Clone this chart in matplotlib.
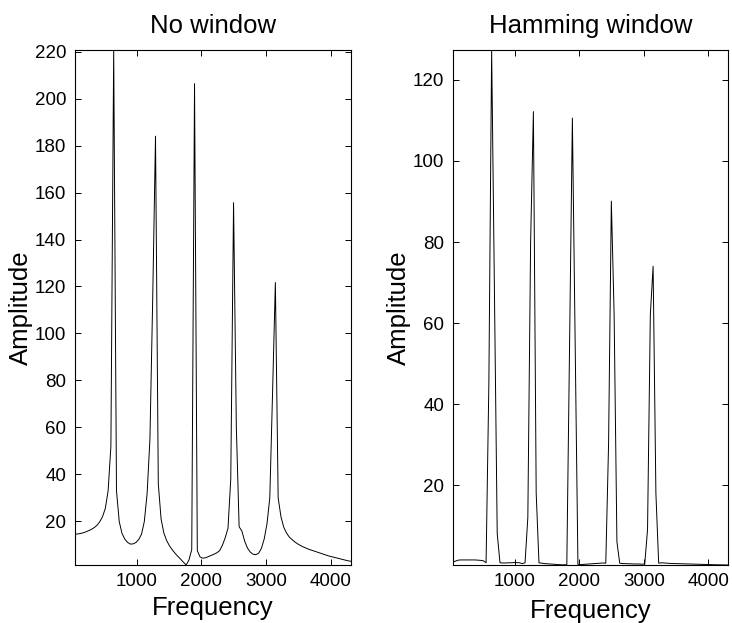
import numpy as np
import matplotlib
matplotlib.use('Agg')
from matplotlib import pyplot as plt

plt.rcParams['font.family'] = ['Liberation Sans', 'DejaVu Sans']

# frequency bins (fs = 44100 Hz, 1024-point FFT, first 100 bins)
fs = 44100
nfft = 1024
freq = np.arange(1, 101) * fs / nfft

# magnitude spectrum, rectangular (no) window
amp_rect = [
    14.5, 14.6, 14.8, 15.1, 15.5, 16.0, 16.6, 17.3, 18.3, 19.8,
    22.0, 25.5, 33.0, 52.0, 220.7, 33.0, 19.8, 14.8, 12.4, 11.0,
    10.3, 10.4, 11.0, 12.3, 14.6, 20.0, 32.0, 55.0, 115.0, 184.0,
    36.0, 21.0, 15.0, 11.8, 9.6, 7.9, 6.4, 5.1, 3.9, 2.6,
    1.4, 3.5, 8.0, 206.4, 7.5, 4.8, 4.3, 4.5, 5.0, 5.5,
    6.0, 6.6, 7.5, 9.8, 13.0, 17.0, 38.0, 155.7, 60.0, 17.7,
    15.8, 11.5, 8.6, 6.9, 6.0, 5.8, 6.4, 8.5, 12.5, 19.0,
    30.0, 75.0, 121.7, 30.0, 22.0, 17.5, 15.0, 13.3, 12.2, 11.2,
    10.4, 9.7, 9.1, 8.6, 8.1, 7.7, 7.3, 6.9, 6.5, 6.1,
    5.7, 5.3, 5.0, 4.7, 4.4, 4.1, 3.8, 3.5, 3.2, 3.0,
]

# magnitude spectrum, Hamming window
amp_hamm = [
    1.0, 1.2, 1.45, 1.5, 1.5, 1.5, 1.5, 1.5, 1.5, 1.45,
    1.4, 1.3, 0.8, 45.0, 127.4, 68.0, 8.0, 0.8, 0.75, 0.75,
    0.8, 0.8, 0.85, 0.85, 0.8, 0.6, 0.8, 12.0, 80.0, 112.2,
    18.0, 0.8, 0.7, 0.6, 0.55, 0.5, 0.45, 0.4, 0.35, 0.3,
    0.3, 0.3, 55.0, 110.6, 55.0, 0.3, 0.35, 0.4, 0.45, 0.5,
    0.55, 0.6, 0.65, 0.7, 0.75, 0.7, 30.0, 90.1, 62.0, 6.0,
    0.7, 0.6, 0.6, 0.55, 0.55, 0.5, 0.5, 0.5, 0.45, 0.5,
    9.0, 62.0, 74.0, 18.0, 0.7, 0.8, 0.75, 0.7, 0.65, 0.6,
    0.6, 0.58, 0.56, 0.54, 0.52, 0.5, 0.48, 0.46, 0.44, 0.42,
    0.4, 0.38, 0.36, 0.34, 0.32, 0.3, 0.29, 0.28, 0.27, 0.25,
]

rect_yticks = [20, 40, 60, 80, 100, 120, 140, 160, 180, 200, 220]
hamm_yticks = [20, 40, 60, 80, 100, 120]
xticks = [1000, 2000, 3000, 4000]

fig = plt.figure(figsize=(7.32, 6.23), dpi=100)
ax1 = fig.add_axes([0.102, 0.0931, 0.377, 0.8266])
ax2 = fig.add_axes([0.6184, 0.0931, 0.3765, 0.8266])

panels = [
    (ax1, amp_rect, 'No window', rect_yticks, -0.060),
    (ax2, amp_hamm, 'Hamming window', hamm_yticks, -0.066),
]
for ax, amp, title, yt, xl_y in panels:
    ax.plot(freq, amp, color='black', linewidth=0.7)
    ax.set_xlim(freq[0], freq[-1])
    ax.set_ylim(min(amp), max(amp))
    ax.set_xticks(xticks)
    ax.set_yticks(yt)
    ax.tick_params(direction='in', length=4, width=0.7, top=True, right=True,
                   labelsize=13.5, pad=6)
    for s in ax.spines.values():
        s.set_linewidth(0.8)
    ax.set_title(title, fontsize=18.5, pad=12)
    ax.set_xlabel('Frequency', fontsize=18.5)
    ax.set_ylabel('Amplitude', fontsize=18.5)
    ax.xaxis.set_label_coords(0.5, xl_y)
    ax.yaxis.set_label_coords(-0.15, 0.5)

fig.savefig('out.png', dpi=100)
